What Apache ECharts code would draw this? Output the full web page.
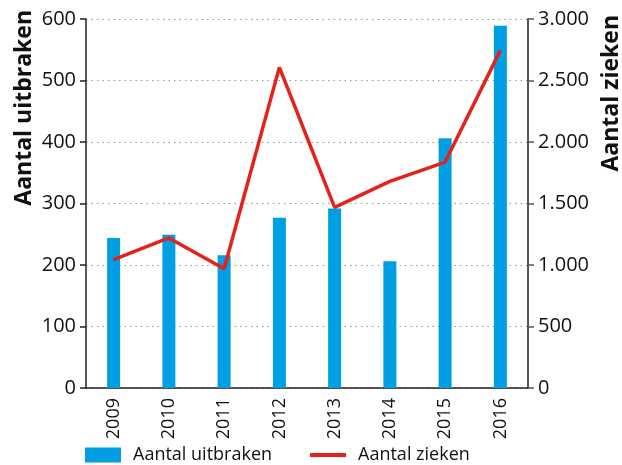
<!DOCTYPE html>
<html>
<head>
<meta charset="utf-8">
<script src="https://cdn.jsdelivr.net/npm/echarts@6/dist/echarts.min.js"></script>
<style>
  html, body { margin: 0; padding: 0; background: #fff; }
  #chart { width: 622px; height: 465px; }
</style>
</head>
<body>
<div id="chart"></div>
<script>
  // data
  const years = ['2009', '2010', '2011', '2012', '2013', '2014', '2015', '2016']
  const uitbraken = [244, 249, 216, 277, 292, 206, 406, 589]
  const zieken = [1043, 1220, 970, 2607, 1469, 1680, 1837, 2745]

  const font = 'Open Sans'
  const fmtNl = v => String(v).replace(/\B(?=(\d{3})+(?!\d))/g, '.')

  const chart = echarts.init(document.getElementById('chart'))
  chart.setOption({
    animation: false,
    textStyle: { fontFamily: font },
    grid: { left: 86, right: 94, top: 19, bottom: 77 },
    legend: {
      left: 80,
      top: 441,
      itemWidth: 36,
      itemHeight: 15,
      itemGap: 36,
      textStyle: { fontFamily: font, fontSize: 18, color: '#111', padding: [0, 0, 0, 7] },
      data: [
        { name: 'Aantal uitbraken', icon: 'rect' },
        {
          name: 'Aantal zieken',
          itemStyle: { color: 'rgba(0,0,0,0)', borderWidth: 0 },
          lineStyle: { width: 4 }
        }
      ]
    },
    xAxis: {
      type: 'category',
      data: years,
      axisLine: { lineStyle: { color: '#222', width: 1.5 } },
      axisTick: { length: 6, lineStyle: { color: '#222', width: 1.5 } },
      axisLabel: { rotate: 90, fontSize: 18, color: '#111', margin: 10 }
    },
    yAxis: [
      {
        type: 'value',
        min: 0, max: 600, interval: 100,
        axisLine: { show: true, lineStyle: { color: '#222', width: 1.5 } },
        axisTick: { show: true, length: 6, lineStyle: { color: '#222', width: 1.5 } },
        axisLabel: { fontSize: 20, color: '#111', margin: 10 },
        splitLine: { lineStyle: { color: '#999', type: [1.5, 4], width: 1.2 } }
      },
      {
        type: 'value',
        min: 0, max: 3000, interval: 500,
        axisLine: { show: true, lineStyle: { color: '#555', width: 2 } },
        axisTick: { show: true, length: 6, lineStyle: { color: '#555', width: 1.5 } },
        axisLabel: { fontSize: 20, color: '#111', margin: 10, formatter: fmtNl },
        splitLine: { show: false }
      }
    ],
    graphic: [
      {
        type: 'text', left: 13, top: 10, rotation: Math.PI / 2,
        style: { text: 'Aantal uitbraken', font: 'bold 23px "Open Sans"', fill: '#111' }
      },
      {
        type: 'text', left: 600, top: 15, rotation: Math.PI / 2,
        style: { text: 'Aantal zieken', font: 'bold 23px "Open Sans"', fill: '#111' }
      }
    ],
    series: [
      {
        name: 'Aantal uitbraken',
        type: 'bar',
        data: uitbraken,
        barWidth: 13,
        itemStyle: { color: '#009FE3' }
      },
      {
        name: 'Aantal zieken',
        type: 'line',
        yAxisIndex: 1,
        data: zieken,
        symbol: 'none',
        lineStyle: { color: '#E3231B', width: 3.5 },
        itemStyle: { color: '#E3231B' }
      }
    ]
  })
</script>
</body>
</html>
